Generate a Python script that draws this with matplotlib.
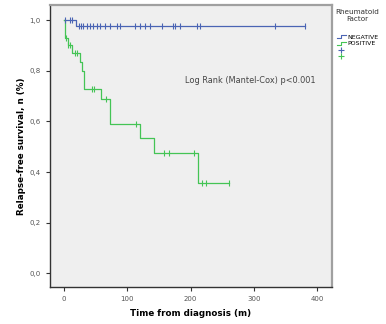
import numpy as np
import matplotlib
matplotlib.use("Agg")
import matplotlib.pyplot as plt
from matplotlib.lines import Line2D
from matplotlib.legend_handler import HandlerLine2D

# Kaplan-Meier step data (time in months, survival proportion)
neg_times = [0, 18.5, 381]
neg_surv = [1.0, 0.976, 0.976]
neg_cens = [1.5, 9.5, 12, 23.7, 26.8, 30.5, 35.8, 41, 46.3, 51.6, 56.9, 64.8, 72.7,
            83, 88.5, 112, 120, 128, 136, 154, 172.7, 176, 183, 209.6, 215, 333, 381]

pos_times = [0, 1, 6, 12, 26, 28, 31, 58, 73, 120, 142, 212, 261]
pos_surv = [1.0, 0.93, 0.90, 0.87, 0.835, 0.80, 0.727, 0.689, 0.589, 0.535, 0.474, 0.358, 0.358]
pos_cens = [4, 7, 10, 17, 20, 44, 47, 67, 114, 158, 166, 206, 218, 225, 261]

blue = "#4a64b4"
green = "#44c455"

xticks = [0, 100, 200, 300, 400]
yticks = [0.0, 0.2, 0.4, 0.6, 0.8, 1.0]
ytick_labels = ["0,0", "0,2", "0,4", "0,6", "0,8", "1,0"]


def surv_at(times, surv, t):
    idx = np.searchsorted(times, t, side="right") - 1
    return np.asarray(surv)[idx]


class HandlerStep(HandlerLine2D):
    # small step glyph for the survival lines in the legend
    def create_artists(self, legend, orig_handle, xdescent, ydescent,
                       width, height, fontsize, trans):
        x0, x1 = -xdescent, -xdescent + width
        y0, y1 = -ydescent + 0.15 * height, -ydescent + 0.85 * height
        xm = x0 + 0.45 * width
        line = Line2D([x0, xm, xm, x1], [y0, y0, y1, y1],
                      color=orig_handle.get_color(), lw=orig_handle.get_linewidth())
        line.set_transform(trans)
        return [line]


fig = plt.figure(figsize=(3.86, 3.24), dpi=100)
ax = fig.add_axes([0.1295, 0.1142, 0.7305, 0.8704])
ax.set_facecolor("#efefef")

ax.step(neg_times, neg_surv, where="post", color=blue, lw=0.9)
ax.step(pos_times, pos_surv, where="post", color=green, lw=0.9)
ax.plot(neg_cens, surv_at(neg_times, neg_surv, neg_cens), ls="none",
        marker="|", ms=4, mew=0.8, color=blue)
ax.plot(pos_cens, surv_at(pos_times, pos_surv, pos_cens), ls="none",
        marker="|", ms=4, mew=0.8, color=green)

ax.set_xlim(-22, 423)
ax.set_ylim(-0.054, 1.06)
ax.set_xticks(xticks)
ax.set_xticklabels([str(x) for x in xticks])
ax.set_yticks(yticks)
ax.set_yticklabels(ytick_labels)
ax.tick_params(labelsize=5, labelcolor="#555555", length=3, width=0.8, color="#333333")

for side in ["left", "bottom"]:
    ax.spines[side].set_color("#333333")
    ax.spines[side].set_linewidth(1.0)
for side in ["top", "right"]:
    ax.spines[side].set_color("#a0a0a0")
    ax.spines[side].set_linewidth(1.6)

ax.set_xlabel("Time from diagnosis (m)", fontsize=6.3, fontweight="bold", labelpad=5)
ax.set_ylabel("Relapse-free survival, n (%)", fontsize=6.3, fontweight="bold", labelpad=3)

ax.text(0.48, 0.725, "Log Rank (Mantel-Cox) p<0.001", transform=ax.transAxes,
        fontsize=5.9, color="#444444")

# legend outside the axes
step_neg = Line2D([], [], color=blue, lw=0.8)
step_pos = Line2D([], [], color=green, lw=0.8)
handles = [
    step_neg,
    step_pos,
    Line2D([], [], color=blue, ls="none", marker="+", ms=5, mew=0.8),
    Line2D([], [], color=green, ls="none", marker="+", ms=5, mew=0.8),
]
leg = fig.legend(handles, ["NEGATIVE", "POSITIVE", " ", " "], title="Rheumatoid\nFactor",
                 loc="upper left", bbox_to_anchor=(0.858, 0.985), frameon=False,
                 fontsize=4.5, title_fontsize=5.2, handlelength=1.5, handletextpad=0.15,
                 labelspacing=0.15, borderpad=0.2, alignment="center",
                 handler_map={step_neg: HandlerStep(), step_pos: HandlerStep()})
leg.get_title().set_color("#333333")
leg.get_title().set_multialignment("center")
leg._legend_box.sep = 9

fig.savefig("out.png", dpi=100)
